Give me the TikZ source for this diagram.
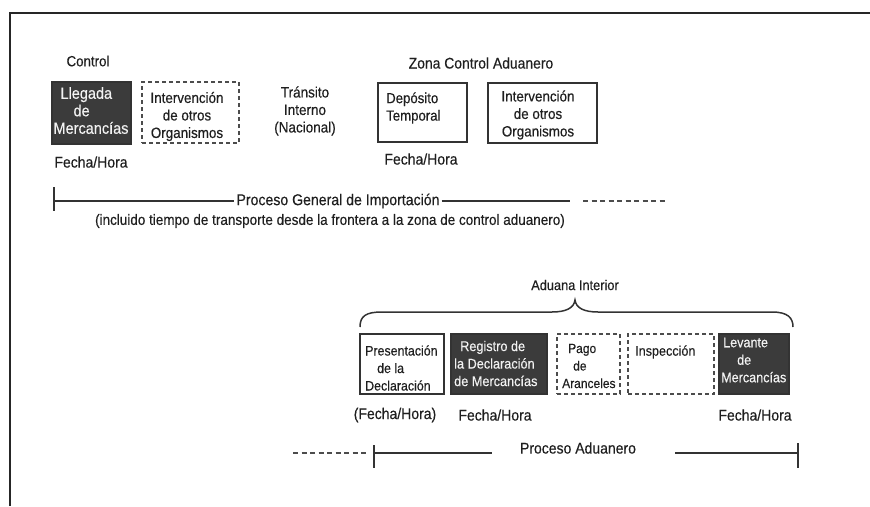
\documentclass[tikz,border=0pt]{standalone}
\usepackage{fontspec}
\setmainfont{Liberation Sans}[FakeStretch=0.9,FakeBold=0.35]
\begin{document}
\begin{tikzpicture}[x=1pt,y=-1pt,
  fs/.style={font={\pgfmathsetmacro\myfsz{#1/0.9}\fontsize{\myfsz}{17.5}\selectfont}},
  txt/.style={fs=14, inner sep=0pt, align=center, text=black!88},
  btxt/.style={inner sep=0pt, align=left, text=black!88},
  wtxt/.style={inner sep=0pt, align=left, text=white!95!black},
  darkbox/.style={draw=black!80, fill=black!77, line width=1.3pt, inner sep=0pt},
  plainbox/.style={draw=black!80, line width=1.6pt, fill=white, inner sep=0pt},
  dashbox/.style={draw=black!70, line width=1.7pt, dash pattern=on 4pt off 3pt, inner sep=0pt},
  rule/.style={line width=1.6pt, draw=black!80},
  druler/.style={line width=1.6pt, draw=black!70, dash pattern=on 5pt off 3.5pt}]
\useasboundingbox (0,0) rectangle (870,506);
% frame
\coordinate (fr0) at (10,506);
\coordinate (fr1) at (10,13);
\coordinate (fr2) at (870,13);
\draw[line width=1.6pt, black!85] (fr0) -- (fr1) -- (fr2);

% ---------- upper part ----------
\node[txt, fs=13.3] (control) at (88,61) {Control};
\node[txt, fs=13.9] (zona) at (481,63) {Zona Control Aduanero};

\node[darkbox, minimum width=79pt, minimum height=62pt] (b1) at (91.5,113) {};
\node[wtxt, fs=14.5] (t1) at (91,110.5) {\hspace*{7pt}Llegada\\\hspace*{20pt}de\\Mercancías};

\node[dashbox, minimum width=97pt, minimum height=61pt] (b2) at (190.5,112.5) {};
\node[btxt, fs=13.4, align=center] (t2) at (187,116.5) {Intervención\\de otros\\Organismos};

\node[btxt, fs=13.5, align=center] (t3) at (305,111) {Tránsito\\Interno\\(Nacional)};

\node[plainbox, minimum width=89pt, minimum height=59pt] (b4) at (422.5,112.5) {};
\node[btxt, fs=13.2, anchor=west] (t4) at (386,108) {Depósito\\Temporal};

\node[plainbox, minimum width=109pt, minimum height=60pt] (b5) at (542.5,113) {};
\node[btxt, fs=13.4, align=center] (t5) at (538,115) {Intervención\\de otros\\Organismos};

\node[txt] (fh1) at (91,162) {Fecha/Hora};
\node[txt] (fh2) at (421,159) {Fecha/Hora};

% timeline 1
\coordinate (l1s) at (54,201);
\coordinate (l1a) at (54,187);
\coordinate (l1b) at (54,211);
\coordinate (l1e) at (570,201);
\coordinate (l1d1) at (583,201);
\coordinate (l1d2) at (667,201);
\node[txt, fs=14.1, inner xsep=2pt] (pgi) at (338,201) {Proceso General de Importación};
\draw[rule] (l1a) -- (l1b);
\draw[rule] (l1s) -- (pgi.west);
\draw[rule] (pgi.east) -- (l1e);
\draw[druler] (l1d1) -- (l1d2);
\node[txt, fs=13.5] (incl) at (330,221) {(incluido tiempo de transporte desde la frontera a la zona de control aduanero)};

% ---------- lower part ----------
\node[txt, fs=12.8] (adi) at (575,285) {Aduana Interior};
\coordinate (brL) at (360,327);
\coordinate (brR) at (793,327);
\draw[line width=1.5pt, black!80] (brL) .. controls (360,316) and (366,312) .. (382,312)
  -- (552,312) .. controls (566,312) and (574,308) .. (575,300)
  .. controls (576,308) and (584,312) .. (598,312)
  -- (772,312) .. controls (788,312) and (793,318) .. (brR);

\node[plainbox, minimum width=84pt, minimum height=60pt] (c1) at (402,364) {};
\node[btxt, fs=12.4, anchor=west] (s1) at (365,368) {Presentación\\\hspace*{12pt}de la\\Declaración};

\node[darkbox, minimum width=96pt, minimum height=60pt] (c2) at (499,364) {};
\node[wtxt, fs=12.7, anchor=west] (s2) at (454,363.5) {\hspace*{6pt}Registro de\\la Declaración\\de Mercancías};

\node[dashbox, minimum width=63pt, minimum height=60pt] (c3) at (588.5,364) {};
\node[btxt, fs=12, anchor=west] (s3) at (562,366) {\hspace*{6pt}Pago\\\hspace*{11pt}de\\Aranceles};

\node[dashbox, minimum width=86pt, minimum height=60pt] (c4) at (671,364) {};
\node[btxt, fs=12.6, anchor=west] (s4) at (635,352) {Inspección};

\node[darkbox, minimum width=70pt, minimum height=60pt] (c5) at (754,364) {};
\node[wtxt, fs=12.6, anchor=west] (s5) at (721,360) {\hspace*{2pt}Levante\\\hspace*{16pt}de\\Mercancías};

\node[txt] (fh3) at (395,415) {(Fecha/Hora)};
\node[txt] (fh4) at (495,415) {Fecha/Hora};
\node[txt] (fh5) at (755,415) {Fecha/Hora};

% timeline 2
\coordinate (l2d1) at (293,453);
\coordinate (l2d2) at (368,453);
\coordinate (l2s) at (374,453);
\coordinate (l2a) at (374,445);
\coordinate (l2b) at (374,468);
\coordinate (l2m1) at (492,453);
\coordinate (l2m2) at (675,453);
\coordinate (l2e) at (798,453);
\coordinate (l2c) at (798,443);
\coordinate (l2f) at (798,468);
\node[txt] (pa) at (578,448) {Proceso Aduanero};
\draw[druler] (l2d1) -- (l2d2);
\draw[rule] (l2a) -- (l2b);
\draw[rule] (l2s) -- (l2m1);
\draw[rule] (l2m2) -- (l2e);
\draw[rule] (l2c) -- (l2f);
\end{tikzpicture}
\end{document}
